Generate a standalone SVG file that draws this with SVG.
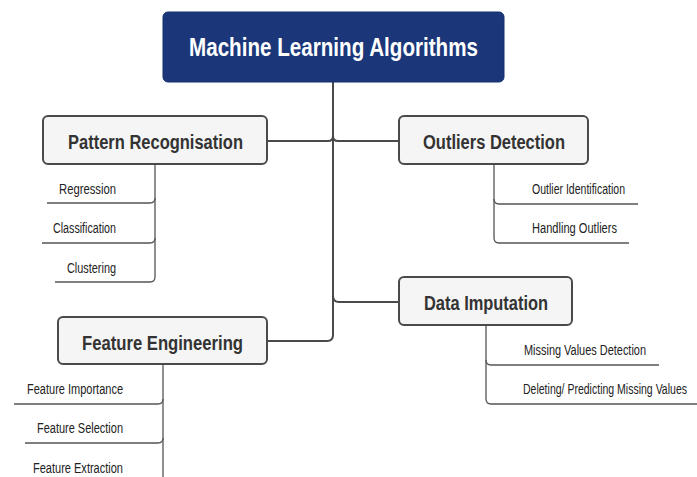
<svg xmlns="http://www.w3.org/2000/svg" width="697" height="477" viewBox="0 0 697 477">
<style>
.bg{fill:#ffffff}
.root rect{fill:#1b377a;stroke:#14306e;stroke-width:1}
.root text{font-family:"Liberation Sans",Arial,sans-serif;font-weight:bold;font-size:25px;fill:#ffffff;text-anchor:middle}
.node rect{fill:#f5f5f5;stroke:#4a4a4a;stroke-width:2}
.node text{font-family:"Liberation Sans",Arial,sans-serif;font-weight:bold;font-size:20px;fill:#333333;text-anchor:middle}
.leaf{font-family:"Liberation Sans",Arial,sans-serif;font-size:14px;fill:#222222}
.main{fill:none;stroke:#4a4a4a;stroke-width:2}
.sub{fill:none;stroke:#555555;stroke-width:1.3}
</style>
<rect class="bg" x="0" y="0" width="697" height="477"/>
<g id="connectors">
  <path class="main" d="M333,82 V335 Q333,341 327,341 H268"/>
  <path class="main" d="M333,136 Q333,141 328,141 H267"/>
  <path class="main" d="M333,136 Q333,141 338,141 H399"/>
  <path class="main" d="M333,296 Q333,302 339,302 H399"/>
  <path class="sub" d="M155,164 V277 Q155,282 150,282 H55"/>
  <path class="sub" d="M155,198 Q155,203 150,203 H47"/>
  <path class="sub" d="M155,238 Q155,243 150,243 H42"/>
  <path class="sub" d="M494,164 V238 Q494,243 499,243 H629"/>
  <path class="sub" d="M494,199 Q494,204 499,204 H638"/>
  <path class="sub" d="M486,325 V399 Q486,404 491,404 H697"/>
  <path class="sub" d="M486,360 Q486,365 491,365 H659"/>
  <path class="sub" d="M163,364 V477"/>
  <path class="sub" d="M163,399 Q163,404 158,404 H14"/>
  <path class="sub" d="M163,438 Q163,443 158,443 H25"/>
</g>
<g id="root" class="root">
  <rect x="163" y="12" width="341" height="70" rx="5"/>
  <text x="333.5" y="56" textLength="289" lengthAdjust="spacingAndGlyphs">Machine Learning Algorithms</text>
</g>
<g id="pattern" class="node">
  <rect x="43" y="116" width="224" height="48" rx="5"/>
  <text x="155.5" y="149" textLength="175" lengthAdjust="spacingAndGlyphs">Pattern Recognisation</text>
</g>
<g id="outliers" class="node">
  <rect x="399" y="116" width="189" height="48" rx="5"/>
  <text x="494" y="149" textLength="142" lengthAdjust="spacingAndGlyphs">Outliers Detection</text>
</g>
<g id="imputation" class="node">
  <rect x="399" y="277" width="173" height="48" rx="5"/>
  <text x="486" y="310" textLength="124" lengthAdjust="spacingAndGlyphs">Data Imputation</text>
</g>
<g id="feature" class="node">
  <rect x="58" y="317" width="209" height="47" rx="5"/>
  <text x="162.5" y="350" textLength="161" lengthAdjust="spacingAndGlyphs">Feature Engineering</text>
</g>
<g id="pattern-leaves">
  <text class="leaf" x="116" y="194" text-anchor="end" textLength="57" lengthAdjust="spacingAndGlyphs">Regression</text>
  <text class="leaf" x="116" y="233" text-anchor="end" textLength="63" lengthAdjust="spacingAndGlyphs">Classification</text>
  <text class="leaf" x="116" y="273" text-anchor="end" textLength="49" lengthAdjust="spacingAndGlyphs">Clustering</text>
</g>
<g id="outlier-leaves">
  <text class="leaf" x="532" y="194" textLength="93" lengthAdjust="spacingAndGlyphs">Outlier Identification</text>
  <text class="leaf" x="532" y="233" textLength="85" lengthAdjust="spacingAndGlyphs">Handling Outliers</text>
</g>
<g id="imputation-leaves">
  <text class="leaf" x="524" y="355" textLength="122" lengthAdjust="spacingAndGlyphs">Missing Values Detection</text>
  <text class="leaf" x="523" y="394" textLength="164" lengthAdjust="spacingAndGlyphs">Deleting/ Predicting Missing Values</text>
</g>
<g id="feature-leaves">
  <text class="leaf" x="123" y="394" text-anchor="end" textLength="96" lengthAdjust="spacingAndGlyphs">Feature Importance</text>
  <text class="leaf" x="123" y="433" text-anchor="end" textLength="86" lengthAdjust="spacingAndGlyphs">Feature Selection</text>
  <text class="leaf" x="123" y="473" text-anchor="end" textLength="90" lengthAdjust="spacingAndGlyphs">Feature Extraction</text>
</g>
</svg>
